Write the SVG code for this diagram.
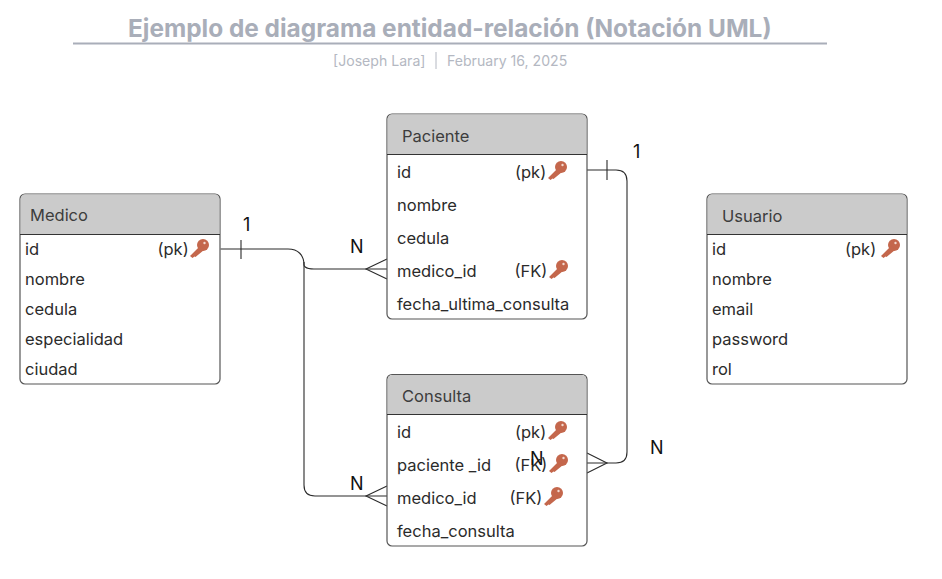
<svg xmlns="http://www.w3.org/2000/svg" width="942" height="579" viewBox="0 0 942 579">
<style>
text{font-family:Inter,"Liberation Sans",sans-serif;fill:#2b2b2b;font-size:16.500px}
.title{font-size:24.400px;font-weight:700;fill:#a9aeb9;text-anchor:middle}
.sub{font-size:14.100px;fill:#b4b8c2}
.box{fill:#fff;stroke:#555;stroke-width:1.2}
.head{fill:#cbcbcb}
.sep{stroke:#333;stroke-width:1}
.hd{fill:#3d3d3d}
.cn{fill:none;stroke:#2b2b2b;stroke-width:1.1}
.lab{font-size:18px;fill:#111}
</style>
<defs>
<g id="key"><circle cx="5" cy="-5" r="6" fill="#c4674c"/><path d="M2.500-4.500 L-8 6 L-5.500 8 L-3.500 6.500 L-2.500 7 L6 0Z" fill="#c4674c"/><circle cx="6.500" cy="-7" r="1.200" fill="#f3d9d0"/></g>
</defs>
<g id="title">
<text class="title" x="449.800" y="36.500">Ejemplo de diagrama entidad-relación (Notación UML)</text>
<line x1="73" y1="43.500" x2="827" y2="43.500" stroke="#a9aeb9" stroke-width="2"/>
<text class="sub" x="333" y="65.500">[Joseph Lara]</text>
<line x1="436" y1="52" x2="436" y2="69" stroke="#b4b8c2" stroke-width="1"/>
<text class="sub" x="447" y="65.500">February 16, 2025</text>
</g>
<g id="connectors">
<path class="cn" d="M220.500 249H288C298 249 304 255 304 265C304 265 304 269 314 269H387"/>
<path class="cn" d="M304 262V485Q304 496 315 496H387"/>
<path class="cn" d="M587 170H616Q627 170 627 181V452Q627 463 616 463H587"/>
<path class="cn" d="M241 240V259M607 160V180"/>
<path class="cn" d="M387 259L366 269L387 279M387 486L366 496L387 506M587 453L607 463L587 473"/>
<text class="lab" x="243" y="231">1</text>
<text class="lab" x="350" y="252.500">N</text>
<text class="lab" x="350" y="489.500">N</text>
<text class="lab" x="633" y="158">1</text>
<text class="lab" x="650" y="454">N</text>
</g>
<g id="medico">
<rect class="box" x="20" y="194" width="200" height="190" rx="5"/>
<path class="head" d="M20.600 234V199a4.500 4.500 0 0 1 4.500-4.500H214.900a4.500 4.500 0 0 1 4.500 4.500V234Z"/>
<line class="sep" x1="20" y1="234.500" x2="220" y2="234.500"/>
<text class="hd" x="30" y="221">Medico</text>
<text x="25" y="255">id</text><text x="157.500" y="255">(pk)</text><use href="#key" x="198" y="250"/>
<text x="25" y="285">nombre</text>
<text x="25" y="315">cedula</text>
<text x="25" y="345">especialidad</text>
<text x="25" y="375">ciudad</text>
</g>
<g id="paciente">
<rect class="box" x="387" y="114" width="200" height="205" rx="5"/>
<path class="head" d="M387.600 154V119a4.500 4.500 0 0 1 4.500-4.500H581.900a4.500 4.500 0 0 1 4.500 4.500V154Z"/>
<line class="sep" x1="387" y1="154.500" x2="587" y2="154.500"/>
<text class="hd" x="402" y="141.500">Paciente</text>
<text x="397" y="178">id</text><text x="515" y="178">(pk)</text><use href="#key" x="556" y="172"/>
<text x="397" y="211">nombre</text>
<text x="397" y="244">cedula</text>
<text x="397" y="277">medico_id</text><text x="514.500" y="277">(FK)</text><use href="#key" x="557" y="271"/>
<text x="397" y="310">fecha_ultima_consulta</text>
</g>
<g id="consulta">
<rect class="box" x="387" y="374.500" width="200" height="171.500" rx="5"/>
<path class="head" d="M387.600 414V379.500a4.500 4.500 0 0 1 4.500-4.500H581.900a4.500 4.500 0 0 1 4.500 4.500V414Z"/>
<line class="sep" x1="387" y1="414.500" x2="587" y2="414.500"/>
<text class="hd" x="402" y="401.500">Consulta</text>
<text x="397" y="438">id</text><text x="515" y="438">(pk)</text><use href="#key" x="556" y="432"/>
<text x="397" y="471">paciente _id</text><text x="514.500" y="471">(FK)</text><use href="#key" x="557" y="465"/>
<text x="397" y="504">medico_id</text><text x="509.500" y="504">(FK)</text><use href="#key" x="552" y="498"/>
<text x="397" y="537">fecha_consulta</text>
<text class="lab" x="530" y="465">N</text>
</g>
<g id="usuario">
<rect class="box" x="707" y="194" width="200" height="190" rx="5"/>
<path class="head" d="M707.600 234V199a4.500 4.500 0 0 1 4.500-4.500H901.900a4.500 4.500 0 0 1 4.500 4.500V234Z"/>
<line class="sep" x1="707" y1="234.500" x2="907" y2="234.500"/>
<text class="hd" x="722" y="221.500">Usuario</text>
<text x="712" y="255">id</text><text x="845" y="255">(pk)</text><use href="#key" x="889" y="250"/>
<text x="712" y="285">nombre</text>
<text x="712" y="315">email</text>
<text x="712" y="345">password</text>
<text x="712" y="375">rol</text>
</g>
</svg>
